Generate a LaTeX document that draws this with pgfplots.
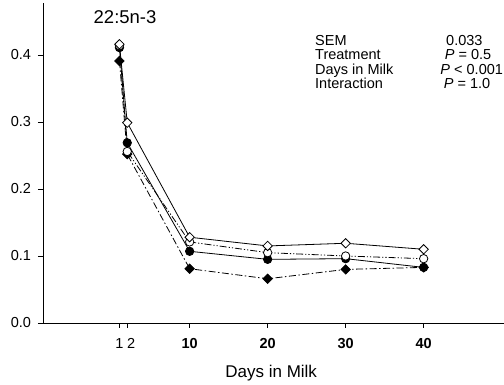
\documentclass[border=0pt]{standalone}
\usepackage{fontspec}
\setmainfont{Liberation Sans}
\usepackage{pgfplots}
\pgfplotsset{compat=1.18}
\begin{document}
\begin{tikzpicture}
\begin{axis}[
  scale only axis,
  width=461pt, height=320pt,
  xmin=-8.8, xmax=50.3,
  ymin=0, ymax=0.4776,
  axis x line=bottom, axis y line=left,
  axis line style={-, line width=0.8pt},
  tick align=outside,
  major tick length=5pt,
  tick style={line width=0.8pt, black},
  xtick={1,2,10,20,30,40},
  xticklabels={1\hspace{6pt},\hspace{8pt}2,\textbf{10},\textbf{20},\textbf{30},\textbf{40}},
  ytick={0,0.1,0.2,0.3,0.4},
  yticklabel style={/pgf/number format/fixed,/pgf/number format/fixed zerofill,/pgf/number format/precision=1, xshift=-3.5pt},
  xticklabel style={yshift=-7pt},
  /pgf/number format/assume math mode=true,
  tick label style={font=\fontsize{14.5}{16}\selectfont},
  xlabel={Days in Milk},
  xlabel style={at={(axis description cs:0.495,0)}, anchor=base, yshift=-55pt, font=\fontsize{17}{19}\selectfont},
  clip=false,
]
% filled diamond, dash-dot
\addplot[black, line width=0.8pt, dash pattern=on 7pt off 2.5pt on 1.5pt off 2.5pt, mark=square*, mark size=3.3pt, mark options={rotate=45, solid, fill=black}]
  coordinates {(1,0.391) (2,0.252) (10,0.081) (20,0.066) (30,0.080) (40,0.083)};
% filled circle, solid
\addplot[black, line width=0.8pt, mark=*, mark size=4.2pt, mark options={solid, fill=black}]
  coordinates {(1,0.411) (2,0.269) (10,0.107) (20,0.095) (30,0.096) (40,0.083)};
% open circle, dash-dot-dot
\addplot[black, line width=0.8pt, dash pattern=on 7pt off 2pt on 1.2pt off 2pt on 1.2pt off 2pt, mark=*, mark size=4.2pt, mark options={solid, fill=white}]
  coordinates {(1,0.414) (2,0.256) (10,0.121) (20,0.105) (30,0.100) (40,0.096)};
% open diamond, solid
\addplot[black, line width=0.8pt, mark=square*, mark size=3.3pt, mark options={rotate=45, solid, fill=white}]
  coordinates {(1,0.416) (2,0.299) (10,0.128) (20,0.115) (30,0.119) (40,0.110)};

\node[anchor=base, font=\fontsize{18.5}{20}\selectfont] at (rel axis cs:0.178,0.936) {22:5n-3};
\begin{scope}[every node/.style={font=\fontsize{14.5}{16}\selectfont, inner sep=0pt}]
\node[anchor=base west] at (rel axis cs:0.590,0.866) {SEM};
\node[anchor=base west] at (rel axis cs:0.590,0.822) {Treatment};
\node[anchor=base west] at (rel axis cs:0.590,0.778) {Days in Milk};
\node[anchor=base west] at (rel axis cs:0.590,0.734) {Interaction};
\node[anchor=base] at (rel axis cs:0.914,0.866) {0.033};
\node[anchor=base] at (rel axis cs:0.922,0.822) {\textit{P} = 0.5};
\node[anchor=base] at (rel axis cs:0.930,0.778) {\textit{P} < 0.001};
\node[anchor=base] at (rel axis cs:0.920,0.734) {\textit{P} = 1.0};
\end{scope}
\end{axis}
\pgfresetboundingbox
\useasboundingbox (-43pt,-62pt) rectangle (461pt,323pt);
\end{tikzpicture}
\end{document}
